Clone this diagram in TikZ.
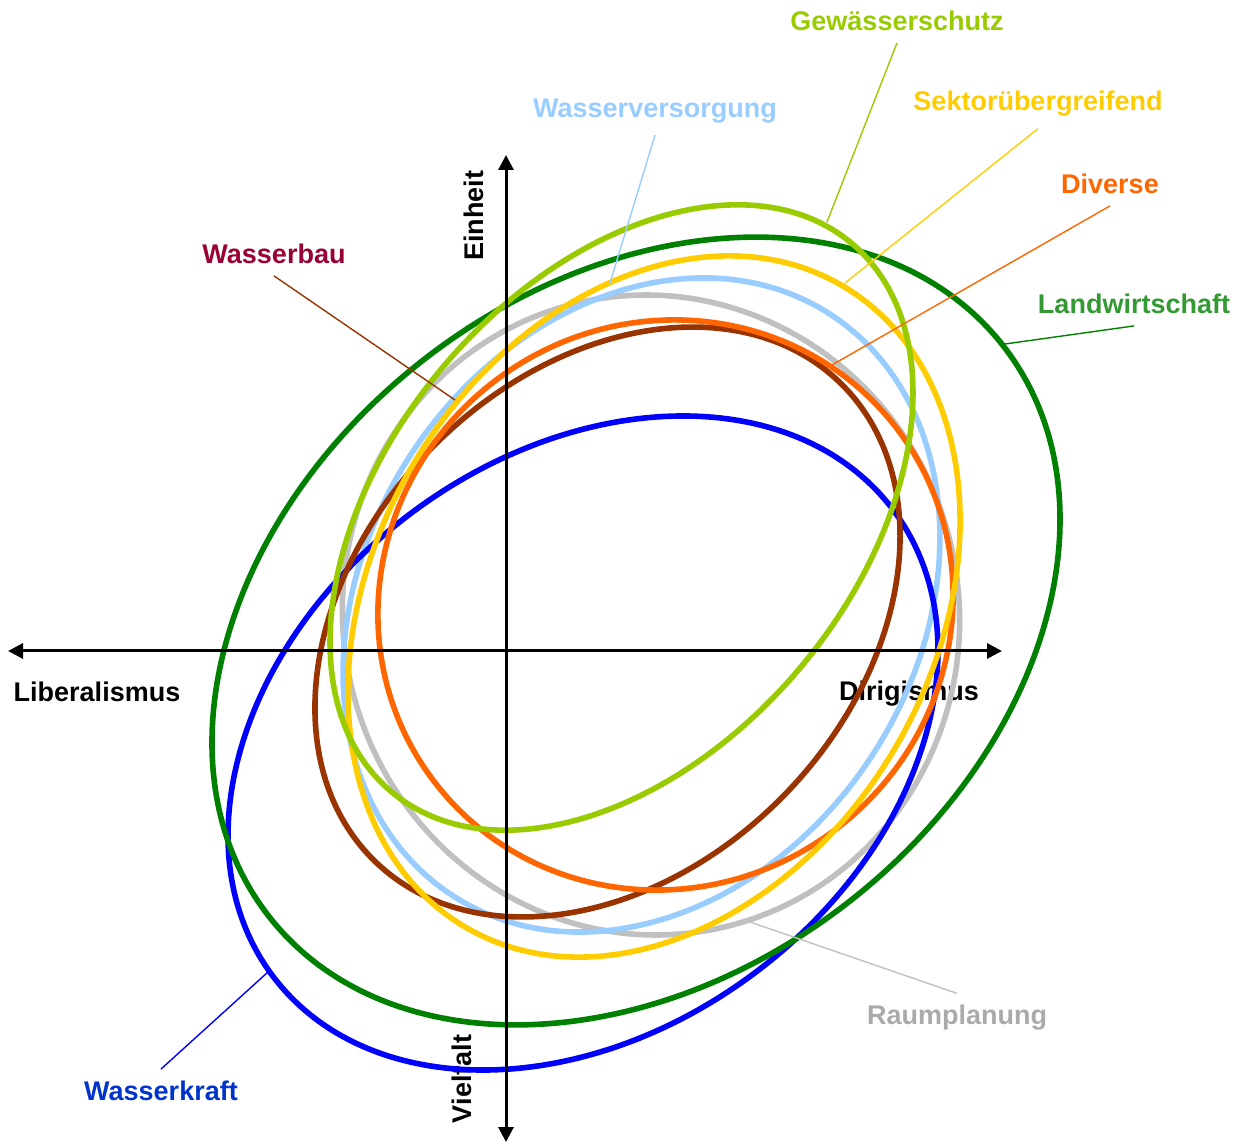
\documentclass[tikz,border=0pt]{standalone}
\usepackage{fontspec}
\setmainfont{Liberation Sans}
\usetikzlibrary{arrows.meta}
\newcommand{\bereich}[5]{
	% centre, radii, tilt and colour of one sector
	\draw[#5, line width=2.8pt, rotate around={#4:(#1)}] (#1) ellipse (#2 and #3);
}
\definecolor{landwirt}{RGB}{0,128,0}
\definecolor{landtext}{RGB}{51,153,51}
\definecolor{gewaesser}{RGB}{153,204,0}
\definecolor{versorgung}{RGB}{153,204,255}
\definecolor{uebergreif}{RGB}{255,204,0}
\definecolor{diverse}{RGB}{255,102,0}
\definecolor{bau}{RGB}{153,51,0}
\definecolor{bautext}{RGB}{153,0,51}
\definecolor{raum}{RGB}{192,192,192}
\definecolor{raumtext}{RGB}{170,170,170}
\definecolor{kraft}{RGB}{0,0,255}
\definecolor{krafttext}{RGB}{0,51,204}

\begin{document}
\begin{tikzpicture}[x=0.5pt,y=-0.5pt,
	lab/.style={font=\fontsize{13.5}{16}\selectfont\bfseries, inner sep=0pt, outer sep=6pt},
	leader/.style={line width=0.7pt},
	axis/.style={line width=1.5pt, {Triangle[length=7.5pt,width=7.5pt]}-{Triangle[length=7.5pt,width=7.5pt]}}]
	\useasboundingbox (0,0) rectangle (1244,1144);
	% names of the axes
	\node[lab] (lib) at (97,692) {Liberalismus};
	\node[lab] (dir) at (909,694) {Dirigismus};
	\node[lab, rotate=90] (ein) at (474,216) {Einheit};
	\node[lab, rotate=90] (viel) at (462,1079) {Vielfalt};
	
	% plot the sectors
	\bereich{651,615}{308}{320.5}{12.4}{raum}
	\bereich{641.5,605}{346.6}{275.4}{56.9}{versorgung}
	\bereich{583,743}{388}{287}{36.9}{kraft}
	\bereich{636,631}{465}{344.5}{37.7}{landwirt}
	\bereich{607.5,622}{333.7}{247.4}{45.8}{bau}
	\bereich{665.5,605}{291}{281.6}{37.2}{diverse}
	\bereich{654,606.5}{372}{279.6}{59.5}{uebergreif}
	\bereich{621.5,517.5}{358}{233.5}{50}{gewaesser}
	
	% draw the axes
	\coordinate (links) at (8,651);
	\coordinate (rechts) at (1002,651);
	\coordinate (oben) at (506,155);
	\coordinate (unten) at (506,1142);
	\draw[axis] (links) -- (rechts);
	\draw[axis] (unten) -- (oben);
	
	% labels and their leaders
	\node[lab, text=gewaesser] (gew) at (897,21) {Gewässerschutz};
	\node[lab, text=versorgung] (vers) at (655,111) {Wasserversorgung};
	\node[lab, text=uebergreif] (sek) at (1038,104) {Sektorübergreifend};
	\node[lab, text=diverse] (div) at (1110,184) {Diverse};
	\node[lab, text=landtext] (land) at (1134,304) {Landwirtschaft};
	\node[lab, text=bautext] (bau) at (274,254) {Wasserbau};
	\node[lab, text=krafttext] (kraft) at (161,1091) {Wasserkraft};
	\node[lab, text=raumtext] (raum) at (957,1018) {Raumplanung};
	\coordinate (gewEnd) at (827,222);
	\coordinate (versEnd) at (610,283);
	\coordinate (sekEnd) at (845,283);
	\coordinate (divEnd) at (832,365);
	\coordinate (landEnd) at (1005,344);
	\coordinate (bauEnd) at (455,400);
	\coordinate (kraftEnd) at (268,972);
	\coordinate (raumEnd) at (750,922);
	\draw[leader, gewaesser] (gew.south) -- (gewEnd);
	\draw[leader, versorgung] (vers.south) -- (versEnd);
	\draw[leader, uebergreif] (sek.south) -- (sekEnd);
	\draw[leader, diverse] (div.south) -- (divEnd);
	\draw[leader, landwirt] (land.south) -- (landEnd);
	\draw[leader, bau] (bau.south) -- (bauEnd);
	\draw[leader, kraft] (kraft.north) -- (kraftEnd);
	\draw[leader, raum] (raum.north) -- (raumEnd);
\end{tikzpicture}
\end{document}
